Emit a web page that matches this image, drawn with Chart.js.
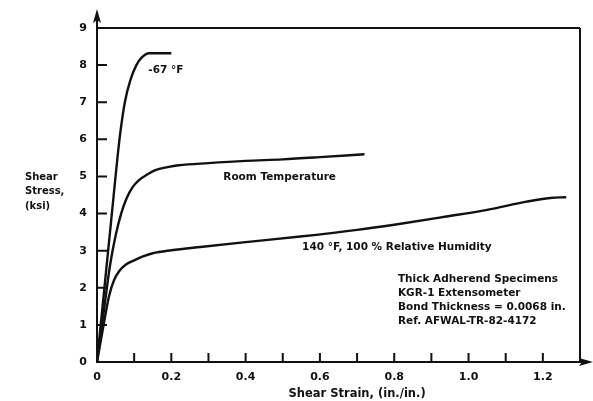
<!DOCTYPE html>
<html>
<head>
<meta charset="utf-8">
<script src="https://cdn.jsdelivr.net/npm/chart.js@4.4.1/dist/chart.umd.min.js"></script>
<style>
html,body{margin:0;padding:0;background:#fff;}
#wrap{width:593px;height:401px;position:relative;}
</style>
</head>
<body>
<div id="wrap"><canvas id="c" width="593" height="401"></canvas></div>
<script>
// ---- data ----
const coldStrain = [0, 0.015, 0.03, 0.045, 0.055, 0.063, 0.075, 0.09, 0.106, 0.12, 0.14, 0.2];
const coldStress = [0, 1.5, 3.0, 4.5, 5.5, 6.2, 7.0, 7.6, 8.0, 8.2, 8.32, 8.32];

const roomStrain = [0, 0.02, 0.035, 0.05, 0.065, 0.08, 0.095, 0.113, 0.135, 0.157, 0.19, 0.22, 0.3, 0.4, 0.5, 0.6, 0.72];
const roomStress = [0, 1.5, 2.6, 3.4, 4.0, 4.42, 4.7, 4.9, 5.05, 5.17, 5.25, 5.3, 5.36, 5.42, 5.46, 5.52, 5.6];

const hotStrain = [0, 0.016, 0.032, 0.046, 0.06, 0.077, 0.1, 0.122, 0.15, 0.2, 0.278, 0.4, 0.547, 0.7, 0.8, 0.94, 1.05, 1.156, 1.22, 1.263];
const hotStress = [0, 0.9, 1.76, 2.21, 2.45, 2.62, 2.74, 2.84, 2.93, 3.01, 3.1, 3.23, 3.38, 3.56, 3.7, 3.92, 4.1, 4.32, 4.42, 4.44];

const xTickValues = [0, 0.2, 0.4, 0.6, 0.8, 1.0, 1.2];
const yTickValues = [0, 1, 2, 3, 4, 5, 6, 7, 8, 9];

const curveLabels = ['-67 °F', 'Room Temperature', '140 °F, 100 % Relative Humidity'];
const noteLines = ['Thick Adherend Specimens', 'KGR-1 Extensometer', 'Bond Thickness = 0.0068 in.', 'Ref. AFWAL-TR-82-4172'];
const yTitleLines = ['Shear', 'Stress,', '(ksi)'];
const xTitle = 'Shear Strain, (in./in.)';

function pts(xs, ys){ return xs.map((x,i)=>({x:x, y:ys[i]})); }

const FONT = '"DejaVu Sans", Verdana, sans-serif';

const decor = {
  id: 'decor',
  afterDatasetsDraw(chart){
    const ctx = chart.ctx, xs = chart.scales.x, ys = chart.scales.y;
    const L = xs.getPixelForValue(0), R = xs.getPixelForValue(1.3);
    const B = ys.getPixelForValue(0), T = ys.getPixelForValue(9);
    ctx.save();
    ctx.strokeStyle = '#111';
    ctx.fillStyle = '#111';
    ctx.lineWidth = 2;
    ctx.lineCap = 'butt';
    // frame top & right
    ctx.beginPath();
    ctx.moveTo(L, T); ctx.lineTo(R, T);
    ctx.moveTo(R, T); ctx.lineTo(R, B);
    ctx.stroke();
    // left axis with arrow
    ctx.beginPath();
    ctx.moveTo(L, B + 1); ctx.lineTo(L, T - 10);
    ctx.stroke();
    ctx.beginPath();
    ctx.moveTo(L, T - 19); ctx.lineTo(L - 4, T - 5); ctx.lineTo(L, T - 8); ctx.lineTo(L + 4, T - 5); ctx.closePath();
    ctx.fill();
    // bottom axis with arrow
    ctx.beginPath();
    ctx.moveTo(L - 1, B); ctx.lineTo(R + 6, B);
    ctx.stroke();
    ctx.beginPath();
    ctx.moveTo(R + 13, B); ctx.lineTo(R - 1, B - 4); ctx.lineTo(R + 2, B); ctx.lineTo(R - 1, B + 4); ctx.closePath();
    ctx.fill();
    // y ticks (inside)
    ctx.beginPath();
    for (let v = 1; v <= 8; v++) {
      const p = ys.getPixelForValue(v);
      ctx.moveTo(L, p); ctx.lineTo(L + 10, p);
    }
    // x ticks (inside) every 0.1
    for (let i = 1; i <= 12; i++) {
      const p = xs.getPixelForValue(i / 10);
      ctx.moveTo(p, B); ctx.lineTo(p, B - 9);
    }
    ctx.stroke();

    // annotations
    ctx.font = 'bold 10.5px ' + FONT;
    ctx.textBaseline = 'middle';
    ctx.textAlign = 'left';
    ctx.fillText(curveLabels[0], xs.getPixelForValue(0.138), ys.getPixelForValue(7.87));
    ctx.fillText(curveLabels[1], xs.getPixelForValue(0.34), ys.getPixelForValue(4.99));
    ctx.fillText(curveLabels[2], xs.getPixelForValue(0.552), ys.getPixelForValue(3.1));
    noteLines.forEach((t, i) => {
      ctx.fillText(t, xs.getPixelForValue(0.81), ys.getPixelForValue(2.24) + i * 14);
    });

    // axis titles
    ctx.font = 'bold 10px ' + FONT;
    yTitleLines.forEach((t, i) => ctx.fillText(t, 25, 177 + i * 14.5));
    ctx.textAlign = 'center';
    ctx.font = 'bold 11.5px ' + FONT;
    ctx.fillText(xTitle, xs.getPixelForValue(0.7), 394);
    ctx.restore();
  }
};

const lineStyle = {
  showLine: true, borderColor: '#111', borderWidth: 2.4, pointRadius: 0,
  fill: false, cubicInterpolationMode: 'monotone'
};

new Chart(document.getElementById('c'), {
  type: 'scatter',
  data: {
    datasets: [
      Object.assign({ label: curveLabels[0], data: pts(coldStrain, coldStress) }, lineStyle),
      Object.assign({ label: curveLabels[1], data: pts(roomStrain, roomStress) }, lineStyle),
      Object.assign({ label: curveLabels[2], data: pts(hotStrain, hotStress) }, lineStyle)
    ]
  },
  options: {
    responsive: false,
    animation: false,
    layout: { padding: { left: 0, right: 13, top: 28, bottom: 0 } },
    plugins: { legend: { display: false }, tooltip: { enabled: false } },
    scales: {
      x: {
        type: 'linear', min: 0, max: 1.3,
        border: { display: false },
        grid: { display: false, drawTicks: false },
        afterBuildTicks(scale){ scale.ticks = xTickValues.map(v => ({ value: v })); },
        ticks: {
          padding: 9, color: '#111', maxRotation: 0, autoSkip: false,
          font: { family: FONT, size: 11, weight: 'bold' },
          callback: v => (v === 0 ? '0' : Number(v).toFixed(1))
        },
        afterFit(scale){ scale.height = 39; }
      },
      y: {
        type: 'linear', min: 0, max: 9,
        border: { display: false },
        grid: { display: false, drawTicks: false },
        afterBuildTicks(scale){ scale.ticks = yTickValues.map(v => ({ value: v })); },
        ticks: {
          padding: 10, color: '#111', autoSkip: false,
          font: { family: FONT, size: 11, weight: 'bold' },
          callback: v => String(v)
        },
        afterFit(scale){ scale.width = 97; }
      }
    }
  },
  plugins: [decor]
});
</script>
</body>
</html>
